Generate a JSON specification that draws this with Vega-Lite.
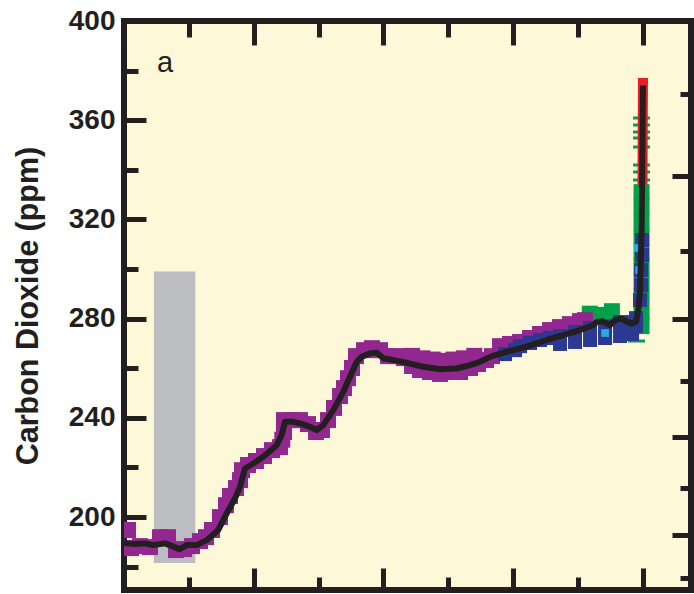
{
  "$schema": "https://vega.github.io/schema/vega-lite/v6.json",
  "width": 567,
  "height": 569,
  "autosize": {"type": "none"},
  "padding": {"left": 124, "top": 21, "right": 3, "bottom": 4},
  "background": "#ffffff",
  "config": {
    "view": {"fill": "#fdf9d8", "stroke": "#231f20", "strokeWidth": 6},
    "axis": {"domain": false, "grid": false, "tickColor": "#231f20", "tickWidth": 5, "labelColor": "#231f20", "titleColor": "#231f20"}
  },
  "datasets": {
    "band": [{"t": 18850, "t2": 17250, "c": 181.5, "c2": 299}],
    "line": [
      {"t": 20000, "c": 190}, {"t": 19896, "c": 189.4}, {"t": 19576, "c": 189.1}, {"t": 19191, "c": 189.4}, {"t": 18871, "c": 188.7},
      {"t": 18420, "c": 189.4}, {"t": 18162, "c": 188.4}, {"t": 17869, "c": 187.0}, {"t": 17584, "c": 188.7}, {"t": 17198, "c": 188.7},
      {"t": 16813, "c": 190.7}, {"t": 16366, "c": 194.8}, {"t": 16042, "c": 201.5}, {"t": 15723, "c": 207.5}, {"t": 15530, "c": 212.2},
      {"t": 15337, "c": 219.6}, {"t": 15017, "c": 221.6}, {"t": 14632, "c": 224.3}, {"t": 14116, "c": 229.0}, {"t": 13923, "c": 233.1},
      {"t": 13796, "c": 238.4}, {"t": 13476, "c": 238.4}, {"t": 13218, "c": 237.8}, {"t": 12832, "c": 236.4}, {"t": 12574, "c": 235.1},
      {"t": 12320, "c": 237.1}, {"t": 11934, "c": 243.1}, {"t": 11549, "c": 250.5}, {"t": 11291, "c": 256.6}, {"t": 11033, "c": 262.6},
      {"t": 10840, "c": 264.6}, {"t": 10520, "c": 266.0}, {"t": 10262, "c": 266.3}, {"t": 10008, "c": 264.0}, {"t": 9622, "c": 263.3},
      {"t": 9106, "c": 262.2}, {"t": 8466, "c": 260.6}, {"t": 7823, "c": 259.6}, {"t": 7179, "c": 259.9}, {"t": 6667, "c": 261.3},
      {"t": 6281, "c": 262.6}, {"t": 5896, "c": 264.6}, {"t": 5252, "c": 266.7}, {"t": 4482, "c": 268.7}, {"t": 3711, "c": 271.4},
      {"t": 3071, "c": 273.4}, {"t": 2428, "c": 275.4}, {"t": 1915, "c": 277.4}, {"t": 1783, "c": 278.7}, {"t": 1592, "c": 279.0},
      {"t": 1272, "c": 277.4}, {"t": 1079, "c": 279.4}, {"t": 821, "c": 280.1}, {"t": 628, "c": 278.8}, {"t": 435, "c": 278.1},
      {"t": 270, "c": 278.8}, {"t": 181, "c": 283.5}, {"t": 116, "c": 290.3}, {"t": 50, "c": 317.1}, {"t": 0, "c": 374}
    ],
    "purple": [
      {"t": 19846, "c": 194.8}, {"t": 19730, "c": 187.5}, {"t": 19383, "c": 188.3}, {"t": 18998, "c": 187.9}, {"t": 18613, "c": 191.9},
      {"t": 18304, "c": 191.9}, {"t": 17996, "c": 186.7}, {"t": 17688, "c": 187.1}, {"t": 17379, "c": 188.3}, {"t": 17071, "c": 190.3},
      {"t": 16840, "c": 191.9}, {"t": 16608, "c": 194.8}, {"t": 16300, "c": 200.0}, {"t": 16069, "c": 204.8}, {"t": 15915, "c": 208.5},
      {"t": 15684, "c": 211.7}, {"t": 15529, "c": 214.9}, {"t": 15452, "c": 218.9}, {"t": 15221, "c": 221.0}, {"t": 14913, "c": 222.6},
      {"t": 14604, "c": 224.6}, {"t": 14296, "c": 227.0}, {"t": 13988, "c": 228.2}, {"t": 13900, "c": 231.2}, {"t": 13834, "c": 234.3},
      {"t": 13834, "c": 239.1}, {"t": 13525, "c": 239.1}, {"t": 13217, "c": 239.1}, {"t": 12909, "c": 237.5}, {"t": 12600, "c": 234.3},
      {"t": 12369, "c": 235.1}, {"t": 12138, "c": 239.1}, {"t": 11907, "c": 244.0}, {"t": 11675, "c": 248.8}, {"t": 11521, "c": 252.0},
      {"t": 11367, "c": 256.0}, {"t": 11213, "c": 260.1}, {"t": 11059, "c": 264.9}, {"t": 10750, "c": 267.3}, {"t": 10442, "c": 268.1},
      {"t": 10134, "c": 267.3}, {"t": 9825, "c": 264.9}, {"t": 9517, "c": 264.9}, {"t": 9209, "c": 264.1}, {"t": 8900, "c": 260.9},
      {"t": 8592, "c": 259.3}, {"t": 8207, "c": 258.5}, {"t": 7821, "c": 257.7}, {"t": 7436, "c": 258.5}, {"t": 7051, "c": 258.5},
      {"t": 6665, "c": 260.1}, {"t": 6357, "c": 261.7}, {"t": 6049, "c": 263.3}, {"t": 5818, "c": 264.9}, {"t": 5509, "c": 268.9},
      {"t": 5124, "c": 269.8}, {"t": 4738, "c": 270.6}, {"t": 4353, "c": 272.2}, {"t": 3967, "c": 273.8}, {"t": 3582, "c": 275.4},
      {"t": 3197, "c": 276.6}, {"t": 2811, "c": 277.8}, {"t": 2426, "c": 279.0}, {"t": 2233, "c": 279.4},
      {"t": 8900, "c": 265.0}, {"t": 8500, "c": 264.0}, {"t": 8100, "c": 263.5}, {"t": 7700, "c": 263.0}, {"t": 7300, "c": 263.5},
      {"t": 6900, "c": 264.0}, {"t": 6500, "c": 265.0}
    ],
    "green": [
      {"t": 2050, "c": 282}, {"t": 1750, "c": 281.5}, {"t": 1200, "c": 283},
      {"t": 56, "c": 277}, {"t": 56, "c": 283}, {"t": 56, "c": 289}, {"t": 56, "c": 295}, {"t": 56, "c": 301},
      {"t": 56, "c": 307}, {"t": 56, "c": 313}, {"t": 56, "c": 319}, {"t": 56, "c": 325}, {"t": 56, "c": 331}
    ],
    "greenTicks": [
      {"t": 56, "c": 360.9}, {"t": 56, "c": 358.1}, {"t": 56, "c": 355.2}, {"t": 56, "c": 352.8}, {"t": 56, "c": 349.2},
      {"t": 56, "c": 341.9}, {"t": 56, "c": 339.1}, {"t": 56, "c": 335.9}, {"t": 250, "c": 271}
    ],
    "blue": [
      {"t": 5316, "c": 265.7}, {"t": 4931, "c": 267.3}, {"t": 4738, "c": 268.9}, {"t": 4353, "c": 270.2}, {"t": 3967, "c": 271.4},
      {"t": 3582, "c": 272.2}, {"t": 3197, "c": 273.0}, {"t": 3197, "c": 269.8}, {"t": 2619, "c": 274.6}, {"t": 2619, "c": 270.6},
      {"t": 2040, "c": 276.2}, {"t": 2040, "c": 271.4}, {"t": 1462, "c": 277.0}, {"t": 1462, "c": 272.2}, {"t": 884, "c": 278.6},
      {"t": 884, "c": 273.0}, {"t": 422, "c": 278.6}, {"t": 422, "c": 273.8}, {"t": 268, "c": 280.2}, {"t": 268, "c": 277.0},
      {"t": 114, "c": 287.5}, {"t": 75, "c": 293.5}, {"t": 75, "c": 299.6}, {"t": 37, "c": 305.6}, {"t": 37, "c": 311.7}
    ],
    "cyan": [{"t": 1462, "c": 274.2}, {"t": 200, "c": 308.5}, {"t": 150, "c": 299.6}],
    "red": [{"t": 20, "c": 334}, {"t": 0, "c": 377}],
    "label": [{"t": 18420, "c": 383.1, "text": "a"}]
  },
  "layer": [
    {
      "data": {"name": "band"},
      "mark": {"type": "rect", "color": "#bcbdc1"},
      "encoding": {
        "x": {"field": "t", "type": "quantitative", "scale": {"domain": [-1850, 20000], "reverse": true, "nice": false, "zero": false},
          "axis": {"orient": "bottom", "values": [20000, 17500, 15000, 12500, 10000, 7500, 5000, 2500, 0], "labels": false, "title": null,
            "tickSize": {"condition": {"test": "datum.value % 5000 === 0", "value": -22}, "value": -13}}},
        "x2": {"field": "t2"},
        "y": {"field": "c", "type": "quantitative", "scale": {"domain": [170.6, 400], "nice": false, "zero": false},
          "axis": {"orient": "left", "values": [180, 200, 220, 240, 260, 280, 300, 320, 340, 360, 380, 400],
            "labelExpr": "datum.value % 40 === 0 ? datum.label : ''",
            "tickSize": {"condition": {"test": "datum.value % 40 === 0", "value": -22}, "value": -14},
            "labelFont": "Liberation Sans", "labelFontSize": 28, "labelFontWeight": "bold", "labelPadding": 31,
            "title": "Carbon Dioxide (ppm)", "titleFont": "Liberation Sans", "titleFontSize": 30.5, "titleFontWeight": "bold", "titlePadding": 25}},
        "y2": {"field": "c2"}
      }
    },
    {
      "data": {"name": "green"},
      "mark": {"type": "square", "color": "#00a14b", "opacity": 1, "size": 256, "clip": true},
      "encoding": {
        "x": {"field": "t", "type": "quantitative", "scale": {"domain": [-1850, 20000], "reverse": true, "nice": false, "zero": false},
          "axis": {"orient": "top", "values": [20000, 17500, 15000, 12500, 10000, 7500, 5000, 2500, 0], "labels": false, "title": null,
            "tickSize": {"condition": {"test": "datum.value % 5000 === 0", "value": -24}, "value": -16}}},
        "y": {"field": "c", "type": "quantitative", "scale": {"domain": [170.6, 400], "nice": false, "zero": false},
          "axis": {"orient": "right", "values": [175.5, 192.7, 211.6, 232.3, 255.0, 280, 307.4, 337.5, 370.6], "labels": false, "title": null,
            "tickSize": {"condition": {"test": "indexof([192.7, 232.3, 280, 337.5], datum.value) >= 0", "value": -19}, "value": -11}}}
      }
    },
    {
      "data": {"name": "greenTicks"},
      "mark": {"type": "tick", "orient": "horizontal", "color": "#00a14b", "opacity": 1, "size": 17, "thickness": 3, "clip": true},
      "encoding": {
        "x": {"field": "t", "type": "quantitative", "scale": {"domain": [-1850, 20000], "reverse": true, "nice": false, "zero": false}, "axis": null},
        "y": {"field": "c", "type": "quantitative", "scale": {"domain": [170.6, 400], "nice": false, "zero": false}, "axis": null}
      }
    },
    {
      "data": {"name": "purple"},
      "mark": {"type": "square", "color": "#92278f", "opacity": 1, "size": 256, "clip": true},
      "encoding": {
        "x": {"field": "t", "type": "quantitative", "scale": {"domain": [-1850, 20000], "reverse": true, "nice": false, "zero": false}, "axis": null},
        "y": {"field": "c", "type": "quantitative", "scale": {"domain": [170.6, 400], "nice": false, "zero": false}, "axis": null}
      }
    },
    {
      "data": {"name": "blue"},
      "mark": {"type": "square", "color": "#2b3990", "opacity": 1, "size": 196, "clip": true},
      "encoding": {
        "x": {"field": "t", "type": "quantitative", "scale": {"domain": [-1850, 20000], "reverse": true, "nice": false, "zero": false}, "axis": null},
        "y": {"field": "c", "type": "quantitative", "scale": {"domain": [170.6, 400], "nice": false, "zero": false}, "axis": null}
      }
    },
    {
      "data": {"name": "cyan"},
      "mark": {"type": "square", "color": "#27aae1", "opacity": 1, "size": 60, "clip": true},
      "encoding": {
        "x": {"field": "t", "type": "quantitative", "scale": {"domain": [-1850, 20000], "reverse": true, "nice": false, "zero": false}, "axis": null},
        "y": {"field": "c", "type": "quantitative", "scale": {"domain": [170.6, 400], "nice": false, "zero": false}, "axis": null}
      }
    },
    {
      "data": {"name": "red"},
      "mark": {"type": "line", "color": "#ed1c24", "strokeWidth": 10, "strokeCap": "butt", "clip": true},
      "encoding": {
        "x": {"field": "t", "type": "quantitative", "scale": {"domain": [-1850, 20000], "reverse": true, "nice": false, "zero": false}, "axis": null},
        "y": {"field": "c", "type": "quantitative", "scale": {"domain": [170.6, 400], "nice": false, "zero": false}, "axis": null}
      }
    },
    {
      "data": {"name": "line"},
      "mark": {"type": "line", "color": "#231f20", "strokeWidth": 6, "strokeJoin": "round", "clip": true},
      "encoding": {
        "x": {"field": "t", "type": "quantitative", "scale": {"domain": [-1850, 20000], "reverse": true, "nice": false, "zero": false}, "axis": null},
        "y": {"field": "c", "type": "quantitative", "scale": {"domain": [170.6, 400], "nice": false, "zero": false}, "axis": null},
        "order": {"field": "t", "sort": "descending"}
      }
    },
    {
      "data": {"name": "label"},
      "mark": {"type": "text", "color": "#231f20", "font": "Liberation Sans", "fontSize": 29, "align": "center", "baseline": "middle"},
      "encoding": {
        "x": {"field": "t", "type": "quantitative", "scale": {"domain": [-1850, 20000], "reverse": true, "nice": false, "zero": false}, "axis": null},
        "y": {"field": "c", "type": "quantitative", "scale": {"domain": [170.6, 400], "nice": false, "zero": false}, "axis": null},
        "text": {"field": "text"}
      }
    }
  ],
  "resolve": {"axis": {"x": "independent", "y": "independent"}}
}
